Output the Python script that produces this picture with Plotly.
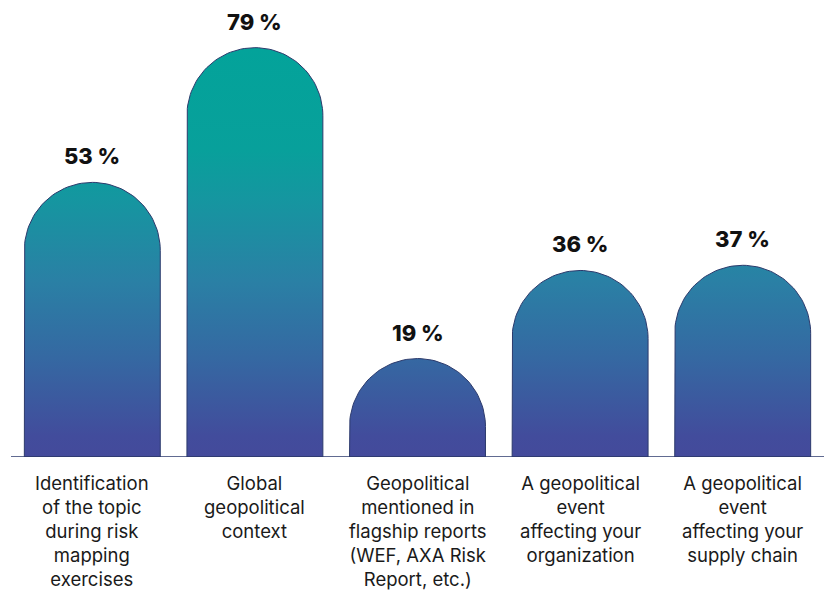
import math
import plotly.graph_objects as go

# Survey results: share of respondents per trigger
categories = [
    "Identification<br>of the topic<br>during risk<br>mapping<br>exercises",
    "Global<br>geopolitical<br>context",
    "Geopolitical<br>mentioned in<br>flagship reports<br>(WEF, AXA Risk<br>Report, etc.)",
    "A geopolitical<br>event<br>affecting your<br>organization",
    "A geopolitical<br>event<br>affecting your<br>supply chain",
]
values = [53, 79, 19, 36, 37]
value_labels = ["53 %", "79 %", "19 %", "36 %", "37 %"]

# Layout geometry
W, H = 824, 592
M_L, M_R, M_T, M_B = 11, 0, 0, 135
X_RANGE = (-0.5, len(values) - 0.5)
Y_RANGE = (0, 88.2)
BAR_W = 0.836

plot_w = W - M_L - M_R
plot_h = H - M_T - M_B
px_per_x = plot_w / (X_RANGE[1] - X_RANGE[0])
px_per_y = plot_h / (Y_RANGE[1] - Y_RANGE[0])

# Vertical gradient shared by all bars (absolute y positions)
grad_scale = [
    [0.00, "#444a9b"],
    [0.05, "#424c9c"],
    [0.24, "#3568a2"],
    [0.43, "#2a80a5"],
    [0.63, "#1596a0"],
    [0.75, "#08a09b"],
    [1.00, "#03a39a"],
]

FONT = "Inter, 'Open Sans', sans-serif"


def rounded_bar(cx, value, n=60):
    """Outline of a bar whose top is a half-ellipse that looks circular on screen."""
    hw = BAR_W / 2
    r_px = hw * px_per_x
    ry = r_px / px_per_y
    shoulder = max(value - ry, 0)
    xs = [cx - hw, cx - hw]
    ys = [0, shoulder]
    for k in range(n + 1):
        a = math.pi - math.pi * k / n
        xs.append(cx + hw * math.cos(a))
        ys.append(shoulder + ry * math.sin(a))
    xs += [cx + hw, cx - hw]
    ys += [0, 0]
    return xs, ys


fig = go.Figure()
for i, v in enumerate(values):
    xs, ys = rounded_bar(i, v)
    fig.add_trace(go.Scatter(
        x=xs, y=ys, mode="lines", fill="toself",
        line=dict(color="#2c3a6c", width=1),
        fillgradient=dict(type="vertical", colorscale=grad_scale,
                          start=0, stop=values[1]),
        hoverinfo="skip", showlegend=False,
    ))

annotations = []
for i, (v, lab) in enumerate(zip(values, value_labels)):
    annotations.append(dict(
        x=i, y=v, text=lab, showarrow=False,
        xanchor="center", yanchor="bottom", yshift=11,
        font=dict(family=FONT, size=22, color="#111111", weight=800),
    ))
for i, c in enumerate(categories):
    annotations.append(dict(
        x=i, y=0, text=c, showarrow=False,
        xanchor="center", yanchor="top", yshift=-13,
        font=dict(family=FONT, size=18.5, color="#1a1a1a"),
    ))

fig.update_layout(
    width=W, height=H,
    margin=dict(l=M_L, r=M_R, t=M_T, b=M_B),
    paper_bgcolor="white", plot_bgcolor="white",
    xaxis=dict(range=list(X_RANGE), visible=False, fixedrange=True),
    yaxis=dict(range=list(Y_RANGE), visible=False, fixedrange=True),
    annotations=annotations,
    shapes=[dict(type="line", xref="paper", yref="y", x0=0, x1=1, y0=0, y1=0,
                 line=dict(color="#2c3a6c", width=1.5))],
)

fig.write_html("out.html")
